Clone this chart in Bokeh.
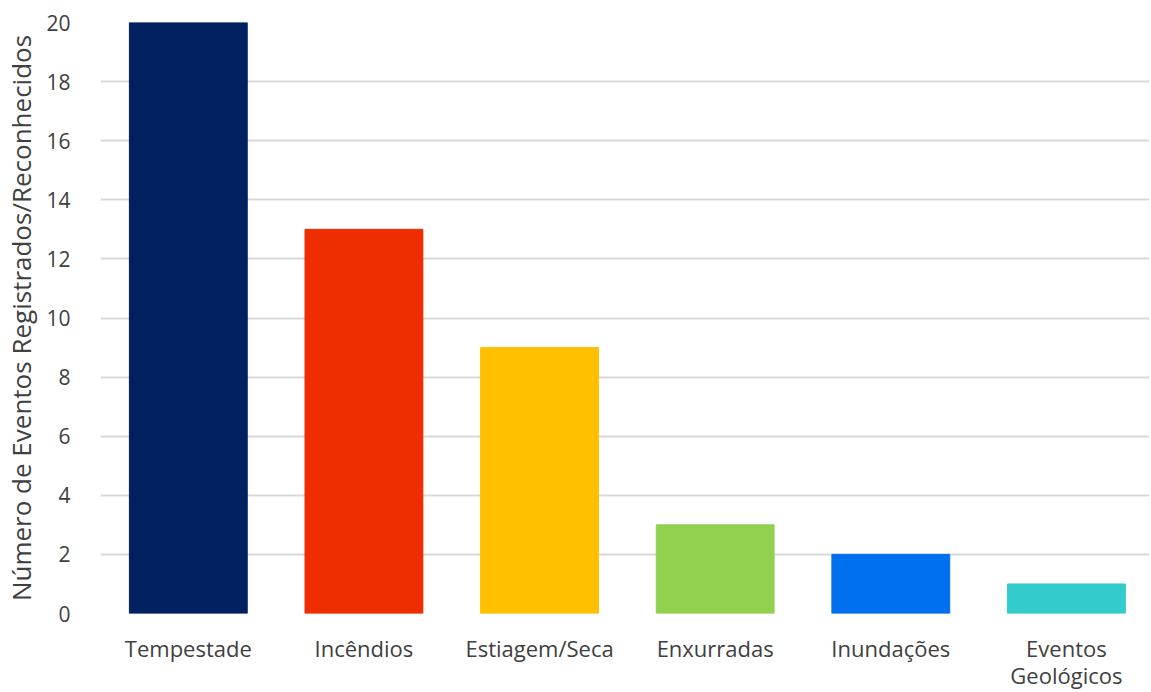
from bokeh.plotting import figure
from bokeh.models import ColumnDataSource, Range1d, FixedTicker, LinearAxis
from bokeh.embed import file_html
from bokeh.resources import INLINE

categories = ["Tempestade", "Incêndios", "Estiagem/Seca", "Enxurradas", "Inundações", "Eventos Geológicos"]
values = [20, 13, 9, 3, 2, 1]
colors = ["#002060", "#EE2D00", "#FFC000", "#92D050", "#0070EE", "#33CCCC"]
y_ticks = [0, 2, 4, 6, 8, 10, 12, 14, 16, 18, 20]
label_line1 = ["Tempestade", "Incêndios", "Estiagem/Seca", "Enxurradas", "Inundações", "Eventos"]
label_line2 = ["", "", "", "", "", "Geológicos"]

pos = list(range(len(categories)))
src = ColumnDataSource(dict(x=pos, cat=categories, val=values, color=colors))

# the chart's plot area runs slightly past the right edge of the picture
p = figure(x_range=Range1d(-0.5, len(categories) - 0.527), y_range=Range1d(0, 20),
           width=1151, height=692, output_backend="svg", toolbar_location=None,
           x_axis_location=None,
           min_border_left=99, min_border_right=2, min_border_top=22, min_border_bottom=79)
p.vbar(x="x", top="val", width=0.671, color="color", source=src)

p.outline_line_color = None
p.xgrid.grid_line_color = None
p.ygrid.grid_line_color = "#D9D9D9"
p.ygrid.grid_line_width = 2
p.yaxis.ticker = FixedTicker(ticks=y_ticks)

font = "Open Sans"
txt = "#404040"

ax1 = LinearAxis(ticker=FixedTicker(ticks=pos),
                 major_label_overrides={i: t for i, t in zip(pos, label_line1)})
ax2 = LinearAxis(ticker=FixedTicker(ticks=pos),
                 major_label_overrides={i: t for i, t in zip(pos, label_line2)})
p.add_layout(ax1, "below")
p.add_layout(ax2, "below")

for ax in (ax1, ax2, p.yaxis[0]):
    ax.axis_line_color = None
    ax.major_tick_line_color = None
    ax.minor_tick_line_color = None
    ax.major_label_text_font = font
    ax.major_label_text_color = txt
p.yaxis.major_label_text_font_size = "21px"
ax1.major_label_text_font_size = "22px"
ax2.major_label_text_font_size = "22px"

ax1.major_label_standoff = 13
ax2.major_label_standoff = -12

p.yaxis.major_label_standoff = 24
p.yaxis.axis_label = "Número de Eventos Registrados/Reconhecidos"
p.yaxis.axis_label_text_font = font
p.yaxis.axis_label_text_font_size = "26px"
p.yaxis.axis_label_text_font_style = "normal"
p.yaxis.axis_label_text_color = txt
p.yaxis.axis_label_standoff = 4

open("out.html", "w").write(file_html(p, INLINE))
